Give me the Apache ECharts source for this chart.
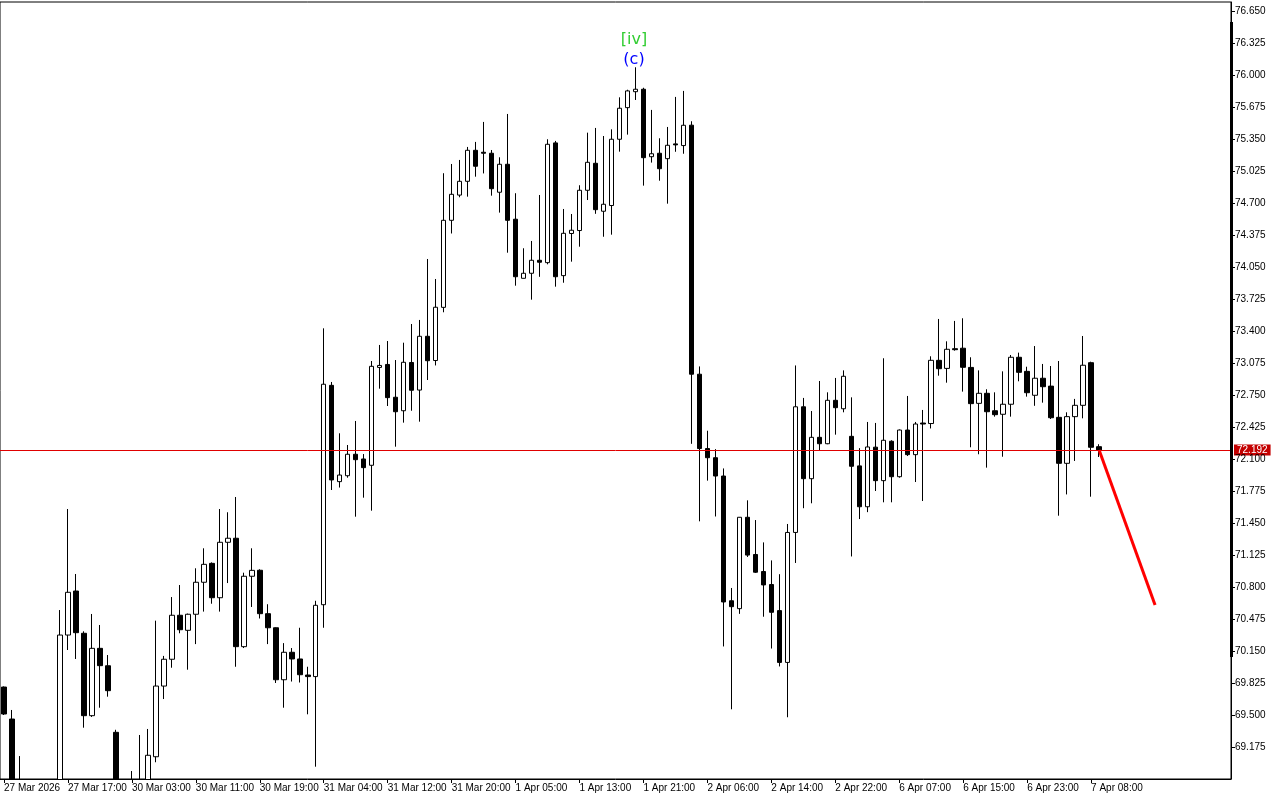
<!DOCTYPE html>
<html><head><meta charset="utf-8">
<script src="https://cdn.jsdelivr.net/npm/echarts@6/dist/echarts.min.js"></script>
<style>html,body{margin:0;padding:0;background:#fff}#c{width:1280px;height:800px}</style>
</head><body><div id="c"></div>
<script>
// ---- sessions (hourly bars, no 00:00 bar) ----
const sessionDays  = ['27 Mar','30 Mar','31 Mar','1 Apr','2 Apr','6 Apr','7 Apr','8 Apr'];
const sessionStart = [9, 1, 1, 1, 1, 1, 1, 1];
const sessionEnd   = [22, 23, 23, 23, 23, 23, 23, 2];
const firstLabel = '27 Mar 2026';

// ---- OHLC values (bars 0..137) ----
const opens = [69.784,69.459,68.75,68.65,68.55,68.45,68.55,68.65,70.312,70.759,
70.33,69.493,70.177,70.0,69.324,68.70,68.60,68.70,68.75,69.076,
69.794,70.066,70.513,70.36,70.523,70.848,71.04,70.691,71.254,71.295,
70.194,70.909,70.97,70.529,70.386,69.858,70.137,70.069,69.906,69.89,
70.62,72.848,71.87,71.93,72.148,72.10,72.036,73.03,73.06,72.727,
72.59,73.08,72.80,73.346,73.10,73.64,74.524,74.78,74.92,75.235,
75.215,75.205,74.809,75.093,74.535,73.935,73.986,74.118,74.094,75.31,
73.962,74.39,74.42,74.829,75.103,74.616,74.674,75.347,75.668,75.83,
75.855,75.17,75.205,75.15,75.30,75.283,75.49,72.961,72.206,72.113,
71.927,70.66,70.58,71.508,71.13,70.957,70.825,70.56,70.034,71.354,
72.63,71.90,72.32,72.255,72.696,72.61,72.33,72.03,71.615,72.22,
71.88,72.28,71.92,72.394,72.144,72.465,72.46,73.102,73.02,73.22,
73.225,73.03,72.665,72.767,72.59,72.554,72.656,73.133,72.99,72.747,
72.92,72.84,72.523,72.056,72.53,72.645,73.078,72.225];
const closes = [69.510,68.70,68.65,68.55,68.45,68.55,68.65,70.312,70.746,70.336,
69.493,70.177,70.001,69.747,68.70,68.60,68.70,68.75,69.091,69.794,
70.066,70.513,70.366,70.523,70.848,71.03,70.691,71.254,71.295,70.194,
70.909,70.969,70.529,70.386,69.858,70.137,70.069,69.909,69.89,70.614,
72.859,71.887,71.937,72.148,72.093,72.012,73.041,73.05,72.723,72.58,
73.082,72.798,73.346,73.098,73.641,74.524,74.788,74.92,75.235,75.073,
75.205,74.845,75.093,74.524,73.951,73.986,74.118,74.098,75.296,73.951,
74.392,74.423,74.829,75.113,74.632,74.687,75.347,75.662,75.838,75.855,
75.16,75.20,75.048,75.286,75.29,75.489,72.961,72.206,72.113,71.927,
70.648,70.60,71.508,71.124,70.95,70.821,70.543,70.034,71.354,72.63,
71.90,72.32,72.255,72.696,72.621,72.94,72.026,71.615,72.222,71.88,
72.29,71.92,72.394,72.144,72.455,72.455,73.102,73.017,73.214,73.21,
73.031,72.662,72.767,72.58,72.55,72.656,73.133,72.98,72.773,72.92,
72.834,72.519,72.056,72.53,72.645,73.052,72.219,72.192];
const lows = [69.50,68.60,68.55,68.40,68.35,68.35,68.45,68.60,70.16,70.069,
69.371,69.48,69.574,69.686,68.60,68.50,68.50,68.60,68.70,69.02,
69.662,69.98,70.33,69.96,70.22,70.55,70.63,70.55,70.84,69.99,
70.18,70.597,70.48,70.22,69.825,69.574,69.84,69.83,69.507,68.975,
70.386,71.785,71.81,71.91,71.514,71.707,71.575,72.814,72.638,72.225,
72.469,72.59,72.479,72.902,73.05,73.59,74.39,74.758,74.764,74.967,
75.0,74.774,74.602,74.195,73.86,73.935,73.718,73.95,74.077,73.85,
73.89,74.104,74.256,74.73,74.59,74.357,74.378,75.221,75.394,75.746,
74.876,75.11,74.926,74.693,75.22,75.20,72.254,71.467,71.88,71.516,
70.196,69.558,70.527,71.105,70.942,70.498,70.175,69.993,69.477,71.044,
71.60,71.65,72.19,72.25,72.347,72.574,71.11,71.49,71.56,71.775,
71.66,71.66,71.91,72.13,71.866,71.673,72.41,72.946,72.875,73.20,
72.784,72.219,72.148,72.012,72.53,72.123,72.53,72.889,72.733,72.64,
72.672,72.506,71.524,71.74,72.08,72.513,71.717,72.12];
const highs = [69.79,69.551,69.083,68.80,68.75,68.75,68.80,70.566,71.592,70.932,
70.35,70.526,70.414,70.109,69.35,68.80,68.931,69.297,69.358,70.458,
70.10,70.698,70.82,70.53,70.99,71.193,71.05,71.592,71.559,71.714,
70.945,71.193,70.98,70.625,70.39,70.23,70.18,70.386,69.99,70.66,
73.427,72.882,72.361,72.242,72.486,72.15,73.095,73.258,73.298,73.105,
73.281,73.471,73.512,74.131,73.928,75.002,75.096,75.137,75.269,75.32,
75.523,75.238,75.164,75.604,74.799,74.24,74.314,74.781,75.347,75.33,
74.639,74.588,74.88,75.414,75.462,75.38,75.448,75.773,75.85,76.078,
75.87,75.645,75.357,75.472,75.777,75.838,75.53,73.04,72.387,72.2,
72.004,70.79,71.51,71.68,71.48,71.253,71.07,70.93,71.44,73.05,
72.72,72.587,72.892,72.777,72.923,73.0,72.726,72.21,72.476,72.466,
73.123,72.29,72.40,72.74,72.476,72.598,73.143,73.522,73.295,73.502,
73.529,73.133,73.0,72.808,72.777,72.99,73.156,73.18,73.037,73.247,
73.065,73.044,73.095,72.574,72.71,73.349,73.088,72.25];

const lastPrice = 72.192;
// forecast line (from last bar to target bar)
const forecastIdx = [137, 144];
const forecastVal = [72.192, 70.617];
// wave labels above bar 79
const waveIdx = 79;
const waveLabels = ['[iv]', '(c)'];
// price axis
const yMin = 68.85, yMax = 76.741, yStep = 0.325;
// thick marker on price axis
const axisBarRange = [76.538, 70.09];

// ---- categories ----
const categories = [];
sessionDays.forEach((d, k) => {
  for (let h = sessionStart[k]; h <= sessionEnd[k]; h++) {
    categories.push(d + ' ' + String(h).padStart(2, '0') + ':00');
  }
});
const nBars = opens.length;
const candleData = categories.map((c, i) => i < nBars ? [opens[i], closes[i], lows[i], highs[i]] : '-');

const FONT = 'Liberation Sans';
const showIdx = (idx) => idx % 8 === 0 && idx < nBars;

const chart = echarts.init(document.getElementById('c'), null, {renderer: 'canvas'});
chart.setOption({
  animation: false,
  backgroundColor: '#ffffff',
  grid: {left: -1, right: 49, top: 2, bottom: 21, show: true, borderColor: '#000', borderWidth: 1, backgroundColor: 'transparent'},
  xAxis: {
    type: 'category', data: categories, boundaryGap: true, z: 10,
    axisLine: {show: true, lineStyle: {color: '#000', width: 1}},
    axisTick: {show: true, interval: (i) => showIdx(i), alignWithLabel: true, length: 4, lineStyle: {color: '#000'}},
    axisLabel: {
      show: true, interval: (i) => showIdx(i), align: 'left', margin: 4,
      fontFamily: FONT, fontSize: 10, color: '#000',
      formatter: (v, i) => i === 0 ? firstLabel : v
    },
    splitLine: {show: false}
  },
  yAxis: {
    type: 'value', position: 'right', min: yMin, max: yMax, interval: yStep, scale: true, z: 10,
    axisLine: {show: true, lineStyle: {color: '#000', width: 1}},
    axisTick: {show: true, length: 4, lineStyle: {color: '#000'}},
    axisLabel: {show: true, margin: 4, fontFamily: FONT, fontSize: 10, color: '#000',
      showMinLabel: false, showMaxLabel: false,
      formatter: (v) => v.toFixed(3)},
    splitLine: {show: false}
  },
  series: [
    {
      type: 'candlestick', data: candleData, barWidth: 5, clip: true,
      itemStyle: {color: '#ffffff', color0: '#000000', borderColor: '#000000', borderColor0: '#000000', borderWidth: 1},
      markLine: {
        silent: true, symbol: ['none', 'none'], animation: false,
        lineStyle: {color: '#E00000', width: 1, type: 'solid'},
        label: {show: true, position: 'end', distance: 3, formatter: () => lastPrice.toFixed(3),
          color: '#fff', backgroundColor: '#C40000', padding: [1, 3, 0, 3], fontFamily: FONT, fontSize: 10},
        emphasis: {disabled: true},
        data: [{yAxis: lastPrice}]
      },
      markPoint: {
        symbol: 'circle', symbolSize: 0, animation: false, silent: true,
        data: [
          {coord: [categories[waveIdx], highs[waveIdx]], value: 0,
           label: {show: true, position: 'inside', offset: [-1.5, -27], formatter: waveLabels[0], color: '#32CD32', fontSize: 16, fontFamily: 'DejaVu Sans'}},
          {coord: [categories[waveIdx], highs[waveIdx]], value: 1,
           label: {show: true, position: 'inside', offset: [-1.5, -7], formatter: waveLabels[1], color: '#0000FF', fontSize: 16, fontFamily: 'DejaVu Sans'}}
        ]
      }
    },
    {
      type: 'line', data: forecastIdx.map((ix, k) => [categories[ix], forecastVal[k]]),
      symbol: 'none', lineStyle: {color: '#FF0000', width: 3}, silent: true, z: 5
    }
  ]
});

// thick marker segment on price axis, and mask for bars running below the plot
const yTop = chart.convertToPixel({yAxisIndex: 0}, axisBarRange[0]);
const yBot = chart.convertToPixel({yAxisIndex: 0}, axisBarRange[1]);
const yPlotBottom = chart.convertToPixel({yAxisIndex: 0}, yMin);
const xa = chart.convertToPixel({xAxisIndex: 0}, categories[categories.length - 1]);
const xb = chart.convertToPixel({xAxisIndex: 0}, categories[categories.length - 2]);
const xEdge = xa + (xa - xb) / 2;
chart.setOption({graphic: [
  {type: 'rect', shape: {x: -5, y: yPlotBottom + 0.5, width: xEdge + 5, height: 60}, style: {fill: '#fff'}, silent: true, z: 6},
  {type: 'rect', shape: {x: xEdge - 1, y: yTop, width: 3, height: yBot - yTop}, style: {fill: '#000'}, silent: true, z: 100}
]});
</script></body></html>
